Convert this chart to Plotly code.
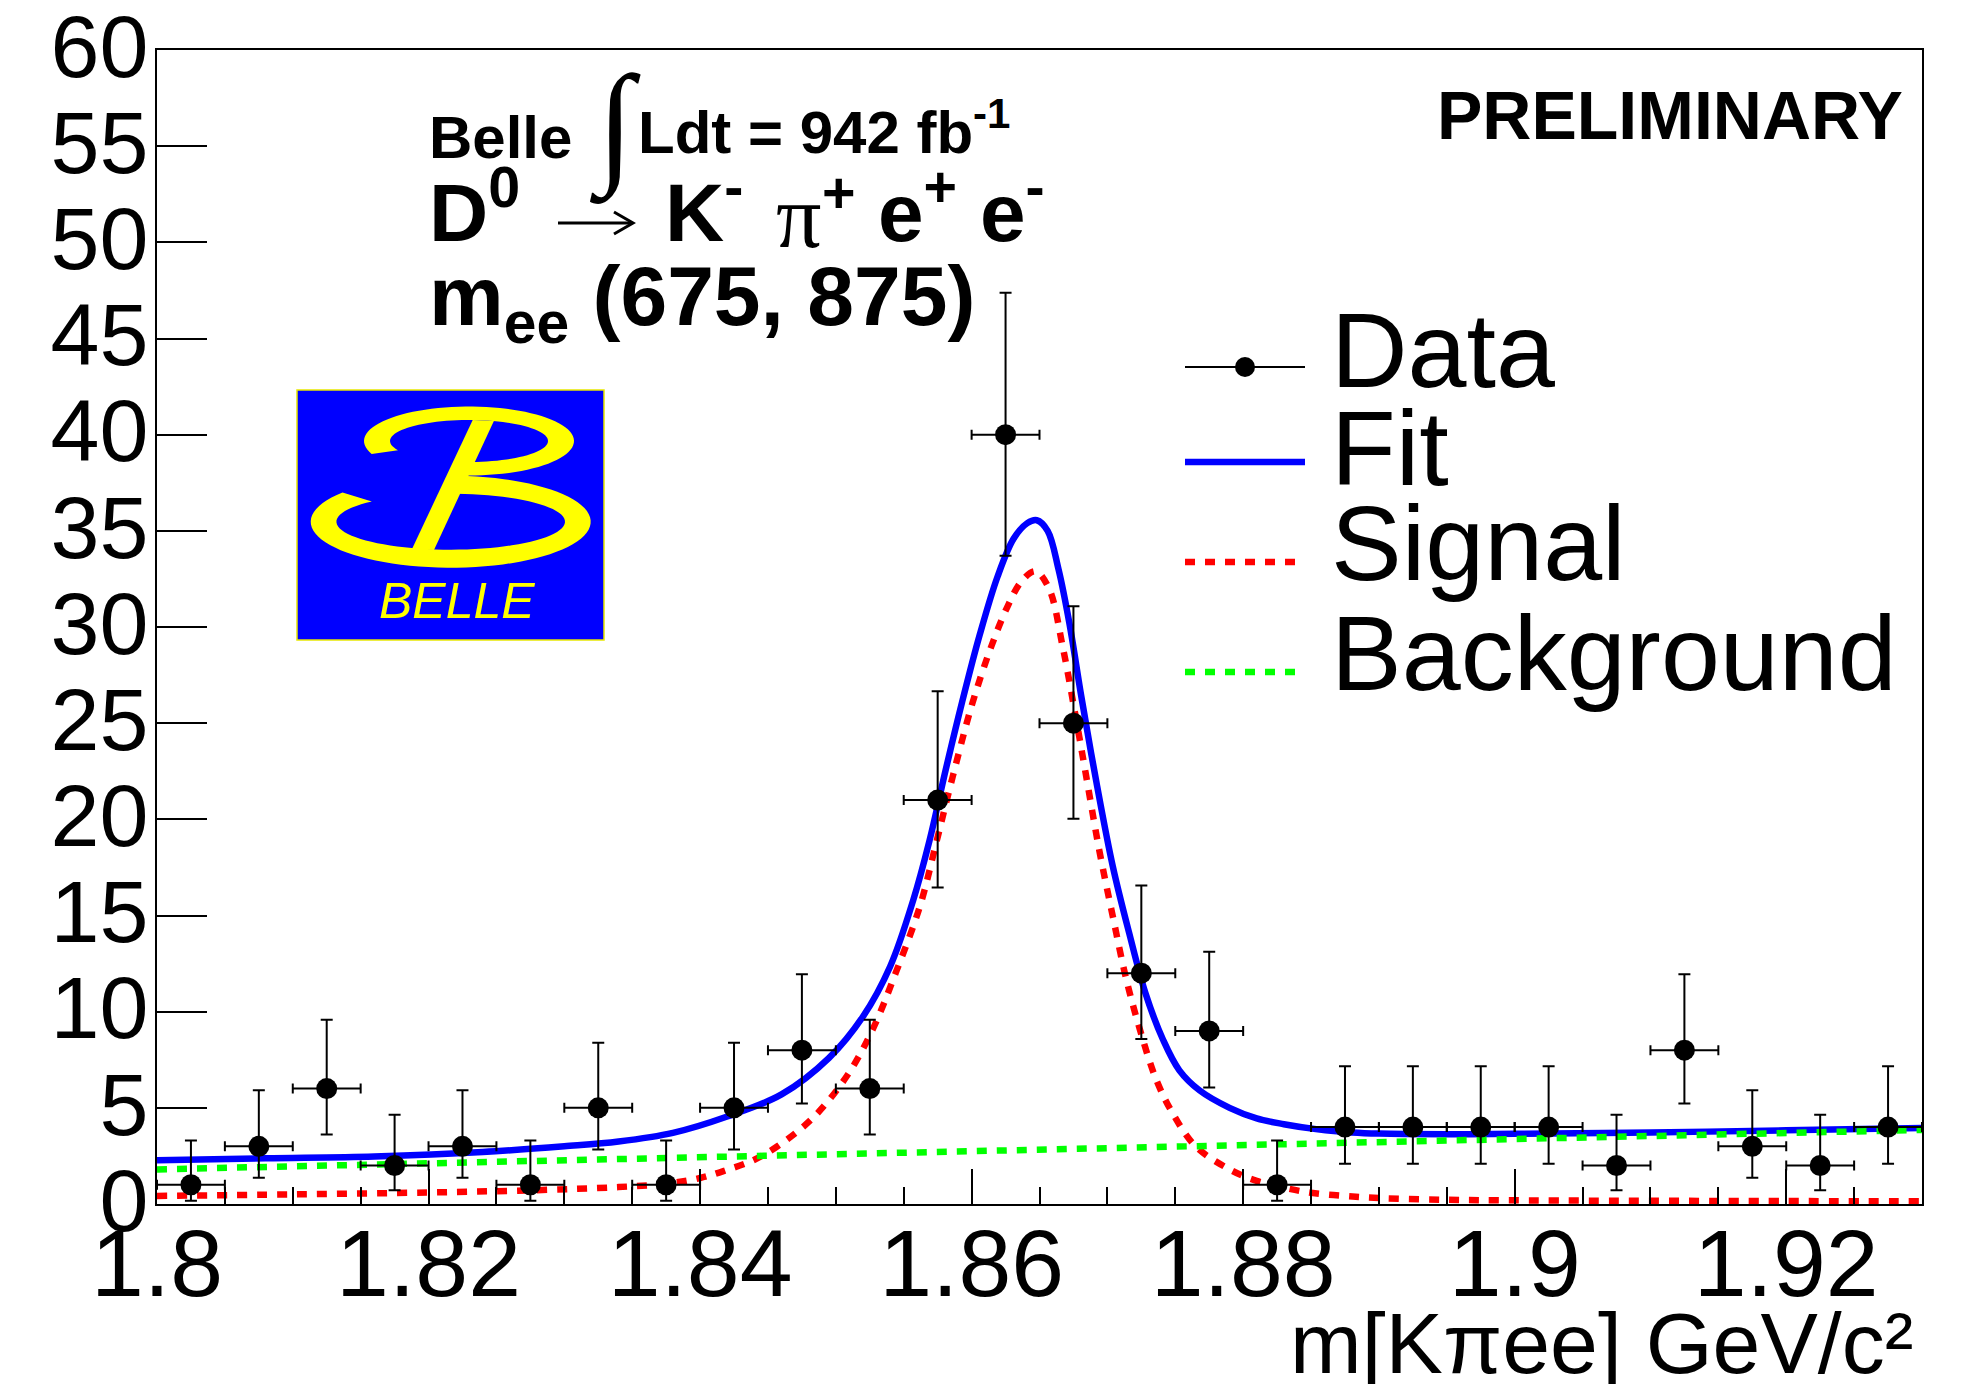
import numpy as np
import plotly.graph_objects as go

# ---------------- data ----------------
bin_x = [1.8025, 1.8075, 1.8125, 1.8175, 1.8225, 1.8275, 1.8325, 1.8375, 1.8425,
         1.8475, 1.8525, 1.8575, 1.8625, 1.8675, 1.8725, 1.8775, 1.8825, 1.8875,
         1.8925, 1.8975, 1.9025, 1.9075, 1.9125, 1.9175, 1.9225, 1.9275]
counts = [1, 3, 6, 2, 3, 1, 5, 1, 5, 8, 6, 21, 40, 25, 12, 9, 1, 4, 4, 4, 4, 2, 8, 3, 2, 4]
err_up = [2.30, 2.92, 3.58, 2.64, 2.92, 2.30, 3.38, 2.30, 3.38, 3.94, 3.58, 5.66, 7.38,
          6.08, 4.56, 4.11, 2.30, 3.16, 3.16, 3.16, 3.16, 2.64, 3.94, 2.92, 2.64, 3.16]
err_dn = [0.83, 1.63, 2.38, 1.29, 1.63, 0.83, 2.16, 0.83, 2.16, 2.77, 2.38, 4.55, 6.30,
          4.97, 3.42, 2.94, 0.83, 1.91, 1.91, 1.91, 1.91, 1.29, 2.77, 1.63, 1.29, 1.91]
bin_half = [0.0025] * 26

fit_x = [1.800, 1.808, 1.816, 1.824, 1.830, 1.834, 1.838, 1.842, 1.846, 1.8495, 1.852,
         1.854, 1.8557, 1.8569, 1.8581, 1.8593, 1.8606, 1.8619, 1.8631, 1.8641, 1.8648,
         1.8656, 1.8664, 1.8672, 1.8681, 1.8692, 1.8704, 1.8716, 1.8728, 1.8741, 1.8753,
         1.8768, 1.8790, 1.8810, 1.8830, 1.8855, 1.8880, 1.8900, 1.8950, 1.9000, 1.9100,
         1.9200, 1.9300]
fit_y = [2.28, 2.38, 2.47, 2.70, 3.00, 3.25, 3.70, 4.55, 5.70, 7.60, 9.75,
         12.35, 15.8, 18.9, 22.6, 26.1, 29.6, 32.6, 34.6, 35.4, 35.55,
         35.0, 33.0, 30.2, 26.3, 21.9, 17.55, 14.1, 10.97, 8.54, 6.95,
         5.90, 5.00, 4.45, 4.15, 3.88, 3.72, 3.66, 3.63, 3.65, 3.72,
         3.83, 3.95]

sig_x = [1.800, 1.810, 1.820, 1.828, 1.834, 1.8374, 1.840, 1.842, 1.844, 1.8457, 1.8483,
         1.8508, 1.8527, 1.8544, 1.8562, 1.8574, 1.8586, 1.8600, 1.8613, 1.8626, 1.8637,
         1.8647, 1.8657, 1.8667, 1.8676, 1.8684, 1.8694, 1.8704, 1.8714, 1.8724, 1.8736,
         1.8748, 1.8765, 1.8790, 1.8810, 1.8830, 1.8850, 1.8875, 1.8900, 1.8950, 1.9000,
         1.9150, 1.9300]
sig_y = [0.42, 0.50, 0.60, 0.72, 0.88, 1.05, 1.35, 1.78, 2.30, 3.00, 4.47,
         6.64, 9.06, 12.0, 15.5, 18.8, 22.2, 25.9, 28.7, 31.0, 32.4,
         32.9, 32.0, 29.0, 25.6, 22.4, 18.4, 14.95, 11.66, 9.06, 6.46,
         4.73, 3.00, 1.80, 1.20, 0.85, 0.58, 0.42, 0.31, 0.22, 0.19,
         0.16, 0.14]

bkg_x = [1.800, 1.930]
bkg_y = [1.80, 3.85]

x_tickvals = [1.80, 1.82, 1.84, 1.86, 1.88, 1.90, 1.92]
x_ticktext = ["1.8", "1.82", "1.84", "1.86", "1.88", "1.9", "1.92"]
y_tickvals = [0, 5, 10, 15, 20, 25, 30, 35, 40, 45, 50, 55, 60]
y_ticktext = ["0", "5", "10", "15", "20", "25", "30", "35", "40", "45", "50", "55", "60"]

legend_labels = ["Data", "Fit", "Signal", "Background"]

# ---------------- geometry helpers (window pixel -> paper) ----------------
# the page body has an 8px margin, so the figure starts at (8, 8) in the window
W, H = 1951, 1376
L, R, T, B = 149, 37, 42, 180
PW, PH = W - L - R, H - T - B          # 1765 x 1154
X0, Y1 = 8 + L, 8 + T + PH             # window px of plot-left and plot-bottom


def px(X):
    return (X - X0) / PW


def py(Y):
    return (Y1 - Y) / PH


SANS = "Liberation Sans, Arial, Helvetica, sans-serif"
SERIF = "Liberation Serif, Times New Roman, serif"

fig = go.Figure()

fig.add_trace(go.Scatter(x=fit_x, y=fit_y, mode="lines", name="Fit",
                         line=dict(color="#0000ff", width=6.5, shape="spline", smoothing=1),
                         showlegend=False))
fig.add_trace(go.Scatter(x=sig_x, y=sig_y, mode="lines", name="Signal",
                         line=dict(color="#ff0000", width=6.5, shape="spline", smoothing=1,
                                   dash="10px,10px"),
                         showlegend=False))
fig.add_trace(go.Scatter(x=bkg_x, y=bkg_y, mode="lines", name="Background",
                         line=dict(color="#00ff00", width=6.5, dash="10px,10px"),
                         showlegend=False))
fig.add_trace(go.Scatter(x=bin_x, y=counts, mode="markers", name="Data",
                         marker=dict(color="black", size=21),
                         error_y=dict(type="data", symmetric=False, array=err_up,
                                      arrayminus=err_dn, thickness=2, width=6, color="black"),
                         error_x=dict(type="data", array=bin_half, thickness=2, width=5,
                                      color="black"),
                         showlegend=False))

shapes = []
annotations = []


def ann(text, X, Y, size, family=SANS, xanchor="left", yanchor="middle", color="black"):
    annotations.append(dict(text=text, x=px(X), y=py(Y), xref="paper", yref="paper",
                            showarrow=False, xanchor=xanchor, yanchor=yanchor,
                            font=dict(size=size, family=family, color=color)))


# ---- header texts ----
ann("<b>Belle</b>", 427, 137, 60)
ann("<b>∫</b>", 588, 126, 134, family=SERIF)
ann("<b>Ldt = 942 fb<sup>-1</sup></b>", 636, 128, 60)
ann("<b>D<sup>0</sup></b>", 427, 207, 82)
ann("<b>K<sup>-</sup></b>", 663, 207, 82)
ann("π", 774, 216, 90, family=SERIF)
ann("<b><sup>+</sup></b>", 820, 193, 82)
ann("<b>e<sup>+</sup> e<sup>-</sup></b>", 876, 207, 82)
ann("<b>m<sub>ee</sub> (675, 875)</b>", 427, 302, 84)
ann("<b>PRELIMINARY</b>", 1905, 115, 68, xanchor="right")

# arrow of the decay (thin line with open head)
arr_y = 223
shapes.append(dict(type="line", xref="paper", yref="paper", x0=px(558), x1=px(632),
                   y0=py(arr_y), y1=py(arr_y), line=dict(color="black", width=3)))
shapes.append(dict(type="path", xref="paper", yref="paper",
                   path=f"M {px(614):.5f},{py(arr_y - 11):.5f} L {px(633):.5f},{py(arr_y):.5f} "
                        f"L {px(614):.5f},{py(arr_y + 11):.5f}",
                   line=dict(color="black", width=3)))

# ---- x-axis title ----
ann("m[Kπee] GeV/c²", 1915, 1343, 86, xanchor="right")

# ---- custom legend ----
leg_y = [367, 462, 562, 672]
txt_y = [350, 448, 543, 653]
lx0, lx1 = 1185, 1305
shapes.append(dict(type="line", xref="paper", yref="paper", x0=px(lx0), x1=px(lx1),
                   y0=py(leg_y[0]), y1=py(leg_y[0]), line=dict(color="black", width=2)))
shapes.append(dict(type="circle", xref="paper", yref="paper",
                   x0=px(1245 - 10), x1=px(1245 + 10), y0=py(leg_y[0] + 10), y1=py(leg_y[0] - 10),
                   fillcolor="black", line=dict(color="black", width=0)))
shapes.append(dict(type="line", xref="paper", yref="paper", x0=px(lx0), x1=px(lx1),
                   y0=py(leg_y[1]), y1=py(leg_y[1]), line=dict(color="#0000ff", width=6.5)))
shapes.append(dict(type="line", xref="paper", yref="paper", x0=px(lx0), x1=px(lx1),
                   y0=py(leg_y[2]), y1=py(leg_y[2]),
                   line=dict(color="#ff0000", width=6.5, dash="10px,10px")))
shapes.append(dict(type="line", xref="paper", yref="paper", x0=px(lx0), x1=px(lx1),
                   y0=py(leg_y[3]), y1=py(leg_y[3]),
                   line=dict(color="#00ff00", width=6.5, dash="10px,10px")))
for lab, yy in zip(legend_labels, txt_y):
    ann(lab, 1329, yy, 106)

# ---- Belle logo ----
shapes.append(dict(type="rect", xref="paper", yref="paper", x0=px(297), x1=px(604),
                   y0=py(640), y1=py(390), fillcolor="#0000ff",
                   line=dict(color="#e8e800", width=1.5), layer="above"))


def ring(cx, cy, ao, bo, ai, bi, to0, to1, ti0, ti1, n=80):
    to = np.radians(np.linspace(to0, to1, n))
    ti = np.radians(np.linspace(ti1, ti0, n))
    pts = [(cx + ao * np.cos(t), cy + bo * np.sin(t)) for t in to]
    pts += [(cx + ai * np.cos(t), cy + bi * np.sin(t)) for t in ti]
    return "M " + " L ".join(f"{px(a):.5f},{py(b):.5f}" for a, b in pts) + " Z"


upper = ring(469.0, 441.0, 105, 34.5, 79, 21, 158, 458, 154, 456)
lower = ring(450.7, 521.7, 140, 46, 114.3, 28, 219.4, -87, 226.4, -91)
diag_pts = [(472.7, 420.0), (494.0, 420.7), (434.0, 550.0), (412.0, 549.0)]
diag = "M " + " L ".join(f"{px(a):.5f},{py(b):.5f}" for a, b in diag_pts) + " Z"
for p in (upper, lower, diag):
    shapes.append(dict(type="path", xref="paper", yref="paper", path=p,
                       fillcolor="#ffff00", line=dict(width=0), layer="above"))

annotations.append(dict(text="<i>BELLE</i>", x=px(457), y=py(601), xref="paper", yref="paper",
                        showarrow=False, xanchor="center", yanchor="middle",
                        font=dict(size=50, family=SANS, color="#ffff00")))

fig.update_layout(
    width=W, height=H,
    margin=dict(l=L, r=R, t=T, b=B, pad=0, autoexpand=False),
    paper_bgcolor="white", plot_bgcolor="white",
    font=dict(family=SANS, color="black"),
    shapes=shapes, annotations=annotations,
    showlegend=False,
    xaxis=dict(range=[1.8, 1.93], tickmode="array", tickvals=x_tickvals, ticktext=x_ticktext,
               ticks="inside", ticklen=35, tickwidth=2, tickcolor="black",
               showline=True, linewidth=2, linecolor="black", mirror=True,
               showgrid=False, zeroline=False, tickfont=dict(size=95, family=SANS),
               ticklabelstandoff=-24, ticklabeloverflow="allow", automargin=False,
               minor=dict(tickmode="linear", tick0=1.8, dtick=0.005, ticks="inside",
                          ticklen=17, tickwidth=2, tickcolor="black", showgrid=False)),
    yaxis=dict(range=[0, 60], tickmode="array", tickvals=y_tickvals, ticktext=y_ticktext,
               ticks="inside", ticklen=50, tickwidth=2, tickcolor="black",
               showline=True, linewidth=2, linecolor="black", mirror=True,
               showgrid=False, zeroline=False, tickfont=dict(size=88, family=SANS),
               ticklabelstandoff=-11, ticklabelshift=-4, ticklabeloverflow="allow",
               automargin=False),
)

fig.write_html("out.html")
